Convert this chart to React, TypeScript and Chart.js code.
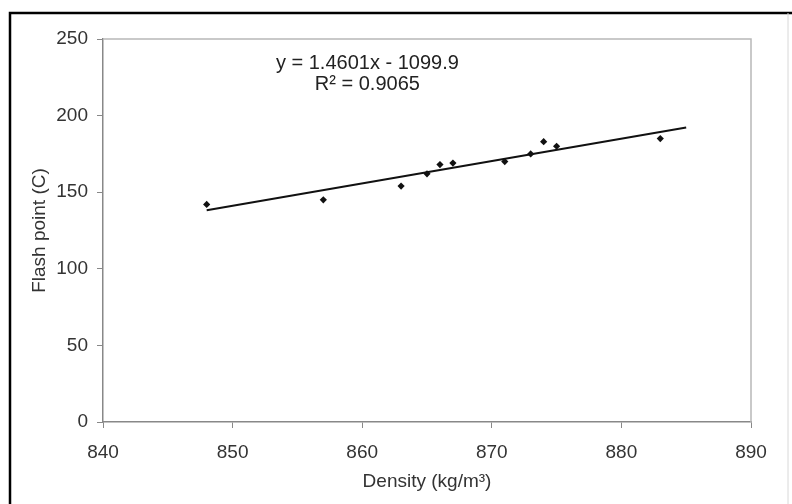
import React, { useEffect, useRef } from "react";
import { Chart, registerables } from "chart.js";

Chart.register(...registerables);

const density = [848, 857, 863, 865, 866, 867, 871, 873, 874, 875, 883];
const flashPoint = [142, 145, 154, 162, 168, 169, 170, 175, 183, 180, 185];
const slope = 1.4601;
const intercept = -1099.9;
const trendX = [848, 885];
const xTicks = [840, 850, 860, 870, 880, 890];
const yTicks = [0, 50, 100, 150, 200, 250];
const equationText = "y = 1.4601x - 1099.9";
const r2Text = "R² = 0.9065";
const xTitle = "Density (kg/m³)";
const yTitle = "Flash point (C)";

const FONT = "'Liberation Sans', Arial, sans-serif";

const framePlugin = {
  id: "frame",
  afterDraw(chart: any) {
    const { ctx, chartArea } = chart;
    ctx.save();
    ctx.strokeStyle = "#b8b8b8";
    ctx.lineWidth = 1.5;
    ctx.beginPath();
    ctx.moveTo(chartArea.left, chartArea.top);
    ctx.lineTo(chartArea.right, chartArea.top);
    ctx.lineTo(chartArea.right, chartArea.bottom);
    ctx.stroke();
    ctx.strokeStyle = "#000";
    ctx.lineWidth = 2.5;
    ctx.beginPath();
    ctx.moveTo(10, 504);
    ctx.lineTo(10, 13);
    ctx.lineTo(792, 13);
    ctx.stroke();
    ctx.strokeStyle = "#d8d8d8";
    ctx.lineWidth = 1;
    ctx.beginPath();
    ctx.moveTo(788, 13);
    ctx.lineTo(788, 504);
    ctx.stroke();
    const xs = chart.scales.x;
    const ys = chart.scales.y;
    ctx.fillStyle = "#222";
    ctx.font = `20px ${FONT}`;
    ctx.textAlign = "center";
    ctx.textBaseline = "middle";
    ctx.fillText(equationText, xs.getPixelForValue(860.4), ys.getPixelForValue(234));
    ctx.fillText(r2Text, xs.getPixelForValue(860.4), ys.getPixelForValue(220));
    ctx.restore();
  },
};

export default function App() {
  const ref = useRef<HTMLCanvasElement | null>(null);
  useEffect(() => {
    if (!ref.current) return;
    const points = density.map((d, i) => ({ x: d, y: flashPoint[i] }));
    const trend = trendX.map((x) => ({ x, y: slope * x + intercept }));
    const chart = new Chart(ref.current, {
      type: "scatter",
      data: {
        datasets: [
          {
            label: "data",
            data: points,
            pointStyle: "rectRot",
            pointRadius: 3.6,
            backgroundColor: "#111",
            borderColor: "#111",
            borderWidth: 0,
          },
          {
            label: "trend",
            type: "line",
            data: trend,
            borderColor: "#111",
            borderWidth: 2,
            pointRadius: 0,
            fill: false,
          } as any,
        ],
      },
      options: {
        responsive: false,
        animation: false,
        layout: { padding: { left: 0, top: 39, right: 41, bottom: 0 } },
        plugins: {
          legend: { display: false },
          tooltip: { enabled: false },
        },
        scales: {
          x: {
            type: "linear",
            min: 840,
            max: 890,
            afterBuildTicks: (s: any) => {
              s.ticks = xTicks.map((v) => ({ value: v }));
            },
            afterFit: (s: any) => {
              s.height = 82;
            },
            grid: {
              drawOnChartArea: false,
              drawTicks: true,
              tickLength: 6,
              color: "#888",
            },
            border: { display: true, color: "#888", width: 1.5 },
            ticks: {
              color: "#333",
              font: { family: FONT, size: 19 },
              padding: 13,
              maxRotation: 0,
            },
            title: {
              display: true,
              text: xTitle,
              color: "#333",
              font: { family: FONT, size: 19 },
              padding: { top: 2, bottom: 11 },
            },
          },
          y: {
            type: "linear",
            min: 0,
            max: 250,
            afterBuildTicks: (s: any) => {
              s.ticks = yTicks.map((v) => ({ value: v }));
            },
            afterFit: (s: any) => {
              s.width = 103;
            },
            grid: {
              drawOnChartArea: false,
              drawTicks: true,
              tickLength: 6,
              color: "#888",
            },
            border: { display: true, color: "#888", width: 1.5 },
            ticks: {
              color: "#333",
              font: { family: FONT, size: 19 },
              padding: 9,
            },
            title: {
              display: true,
              text: yTitle,
              color: "#333",
              font: { family: FONT, size: 19 },
              padding: { top: 28, bottom: 4 },
            },
          },
        },
      },
      plugins: [framePlugin],
    });
    return () => chart.destroy();
  }, []);
  return (
    <div style={{ position: "fixed", left: 0, top: 0, width: 792, height: 504, background: "#fff" }}>
      <canvas ref={ref} width={792} height={504} style={{ display: "block" }} />
    </div>
  );
}
